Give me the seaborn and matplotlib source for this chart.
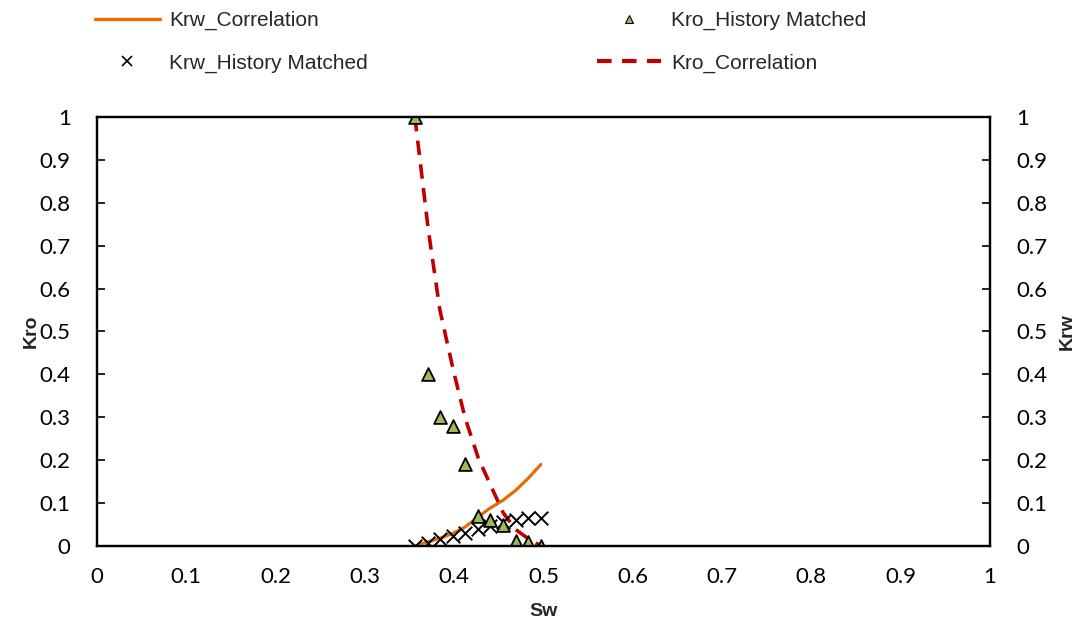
import numpy as np
import pandas as pd
import matplotlib
matplotlib.use("Agg")
import matplotlib.pyplot as plt
import seaborn as sns
from matplotlib.lines import Line2D

# Water saturation points (history matched)
sw_hm = [0.356, 0.371, 0.384, 0.399, 0.412, 0.427, 0.440, 0.455, 0.469, 0.483, 0.497]
kro_hm = [1.0, 0.40, 0.30, 0.28, 0.19, 0.07, 0.06, 0.05, 0.012, 0.01, 0.0]
krw_hm = [0.0, 0.008, 0.016, 0.024, 0.031, 0.040, 0.047, 0.056, 0.060, 0.066, 0.066]

# Correlation curves
sw_corr = [0.356, 0.371, 0.384, 0.399, 0.412, 0.427, 0.440, 0.455, 0.469, 0.483, 0.497]
kro_corr = [1.0, 0.737, 0.55, 0.41, 0.30, 0.205, 0.145, 0.077, 0.038, 0.017, 0.0]
krw_corr = [0.0, 0.010, 0.018, 0.030, 0.044, 0.068, 0.088, 0.107, 0.130, 0.158, 0.190]

ticks = [0, 0.1, 0.2, 0.3, 0.4, 0.5, 0.6, 0.7, 0.8, 0.9, 1]
tick_labels = ["0", "0.1", "0.2", "0.3", "0.4", "0.5", "0.6", "0.7", "0.8", "0.9", "1"]

hm = pd.DataFrame({"Sw": sw_hm, "Kro": kro_hm, "Krw": krw_hm})
corr = pd.DataFrame({"Sw": sw_corr, "Kro": kro_corr, "Krw": krw_corr})

sns.set_style("white")
plt.rcParams["font.family"] = ["Liberation Sans", "DejaVu Sans"]

fig = plt.figure(figsize=(10.86, 6.28), dpi=100)
ax = fig.add_axes([0.0893, 0.1306, 0.8223, 0.6831])

orange = "#E46C0A"
red = "#C00000"
green = "#9BBB59"

sns.lineplot(data=corr, x="Sw", y="Krw", ax=ax, color=orange, linewidth=2.3, zorder=3)
sns.lineplot(data=corr, x="Sw", y="Kro", ax=ax, color=red, linewidth=2.6,
             dashes=False, zorder=3)
ax.lines[-1].set_dashes([4.0, 2.6])
sns.scatterplot(data=hm, x="Sw", y="Krw", ax=ax, marker="x", color="black",
                s=95, linewidth=1.4, zorder=4)
sns.scatterplot(data=hm, x="Sw", y="Kro", ax=ax, marker="^", color=green,
                edgecolor="black", s=85, linewidth=1.3, zorder=5)

tick_font = dict(family="Lato", fontsize=16)
ax.set_xlim(0, 1)
ax.set_ylim(0, 1)
ax.set_xticks(ticks)
ax.set_xticklabels(tick_labels, **tick_font)
ax.set_yticks(ticks)
ax.set_yticklabels(tick_labels, **tick_font)
ax.tick_params(direction="in", length=6, width=1.2, colors="black")
ax.tick_params(axis="y", pad=19)
ax.tick_params(axis="x", pad=15)
for sp in ax.spines.values():
    sp.set_linewidth(1.6)
    sp.set_color("black")

ax.set_xlabel("Sw", fontsize=14, fontweight="bold", labelpad=12)
ax.set_ylabel("Kro", fontsize=14, fontweight="bold", labelpad=0)

ax2 = ax.twinx()
ax2.set_ylim(0, 1)
ax2.set_yticks(ticks)
ax2.set_yticklabels(tick_labels, **tick_font)
ax2.tick_params(direction="in", length=6, width=1.2, pad=19, colors="black")
for sp in ax2.spines.values():
    sp.set_linewidth(1.6)
    sp.set_color("black")
ax2.set_ylabel("Krw", fontsize=14, fontweight="bold", labelpad=8)

handles = [
    Line2D([], [], color=orange, linewidth=2.5),
    Line2D([], [], color="black", marker="x", linestyle="none", markersize=7, markeredgewidth=1.2),
    Line2D([], [], color=green, marker="^", markeredgecolor="black", linestyle="none",
           markersize=6, markeredgewidth=0.8),
    Line2D([], [], color=red, linewidth=3, dashes=[3.5, 2.5]),
]
labels = ["Krw_Correlation", "Krw_History Matched", "Kro_History Matched", "Kro_Correlation"]
fig.legend(handles, labels, ncol=2, frameon=False, loc="upper left",
           bbox_to_anchor=(95 / 1086, 1 - 11 / 628), fontsize=15,
           handlelength=3.1, handletextpad=0.45, columnspacing=11.0,
           labelspacing=1.13, borderpad=0, borderaxespad=0)

fig.savefig("out.png", dpi=100)
